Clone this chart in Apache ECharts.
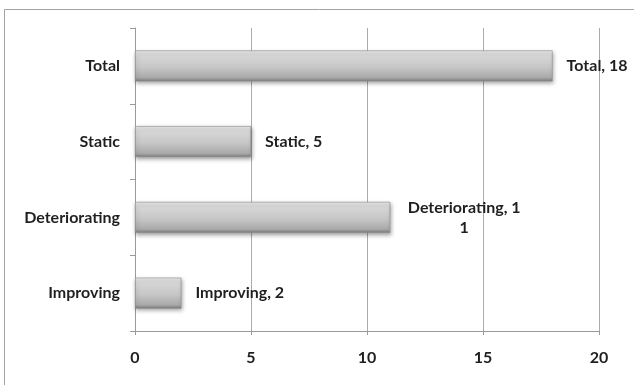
<!DOCTYPE html>
<html>
<head>
<meta charset="utf-8">
<script src="https://cdn.jsdelivr.net/npm/echarts@6/dist/echarts.min.js"></script>
<style>
  html, body { margin: 0; padding: 0; background: #ffffff; }
  #chart { width: 634px; height: 385px; }
</style>
</head>
<body>
<div id="chart"></div>
<script>
// Trend categories, listed bottom to top
const categories = ['Improving', 'Deteriorating', 'Static', 'Total'];
const counts = [2, 11, 5, 18];
const xTicks = [0, 5, 10, 15, 20];

const FONT = 'Lato, "Open Sans", sans-serif';
const TEXT = '#1f1f1f';

// Cylinder-like grey shading for the bars
const barFill = new echarts.graphic.LinearGradient(0, 0, 0, 1, [
  { offset: 0, color: '#e9e9e9' },
  { offset: 0.12, color: '#d9d9d9' },
  { offset: 0.55, color: '#c6c6c6' },
  { offset: 0.88, color: '#a9a9a9' },
  { offset: 1, color: '#7a7a7a' }
]);

const barData = counts.map((v, i) => {
  const item = { value: v };
  if (categories[i] === 'Deteriorating') {
    // this label wraps onto two centred lines
    item.label = {
      formatter: categories[i] + ', ' + String(v).slice(0, 1) + '\n' + String(v).slice(1),
      align: 'center',
      offset: [60, 0],
      lineHeight: 20
    };
  }
  return item;
});

const chart = echarts.init(document.getElementById('chart'), null, { renderer: 'canvas' });
chart.setOption({
  animation: false,
  backgroundColor: '#ffffff',
  graphic: [{
    type: 'rect',
    shape: { x: 4.5, y: 9.5, width: 700, height: 500 },
    style: { fill: 'none', stroke: '#a3a3a3', lineWidth: 1 },
    silent: true,
    z: -10
  }],
  grid: { left: 135, right: 35, top: 28, bottom: 54, containLabel: false },
  xAxis: {
    type: 'value',
    min: xTicks[0],
    max: xTicks[xTicks.length - 1],
    interval: 5,
    axisLine: { show: true, lineStyle: { color: '#9a9a9a', width: 1 } },
    axisTick: { show: true, length: 4, lineStyle: { color: '#9a9a9a' } },
    splitLine: { show: true, lineStyle: { color: '#ababab', width: 1 } },
    axisLabel: { color: TEXT, fontFamily: FONT, fontSize: 16, fontWeight: 'bold', margin: 19 }
  },
  yAxis: {
    type: 'category',
    data: categories,
    axisLine: { show: true, lineStyle: { color: '#9a9a9a', width: 1 } },
    axisTick: { show: true, length: 5, lineStyle: { color: '#9a9a9a' } },
    axisLabel: { color: TEXT, fontFamily: FONT, fontSize: 16, fontWeight: 'bold', margin: 15 }
  },
  series: [{
    type: 'bar',
    data: barData,
    barWidth: 31,
    itemStyle: {
      color: barFill,
      borderColor: '#8c8c8c',
      borderWidth: 0.6,
      shadowColor: 'rgba(0,0,0,0.35)',
      shadowBlur: 4,
      shadowOffsetX: 1,
      shadowOffsetY: 2
    },
    label: {
      show: true,
      position: 'right',
      distance: 14,
      color: TEXT,
      fontFamily: FONT,
      fontSize: 16,
      fontWeight: 'bold',
      formatter: p => p.name + ', ' + p.value
    }
  }]
});
</script>
</body>
</html>
